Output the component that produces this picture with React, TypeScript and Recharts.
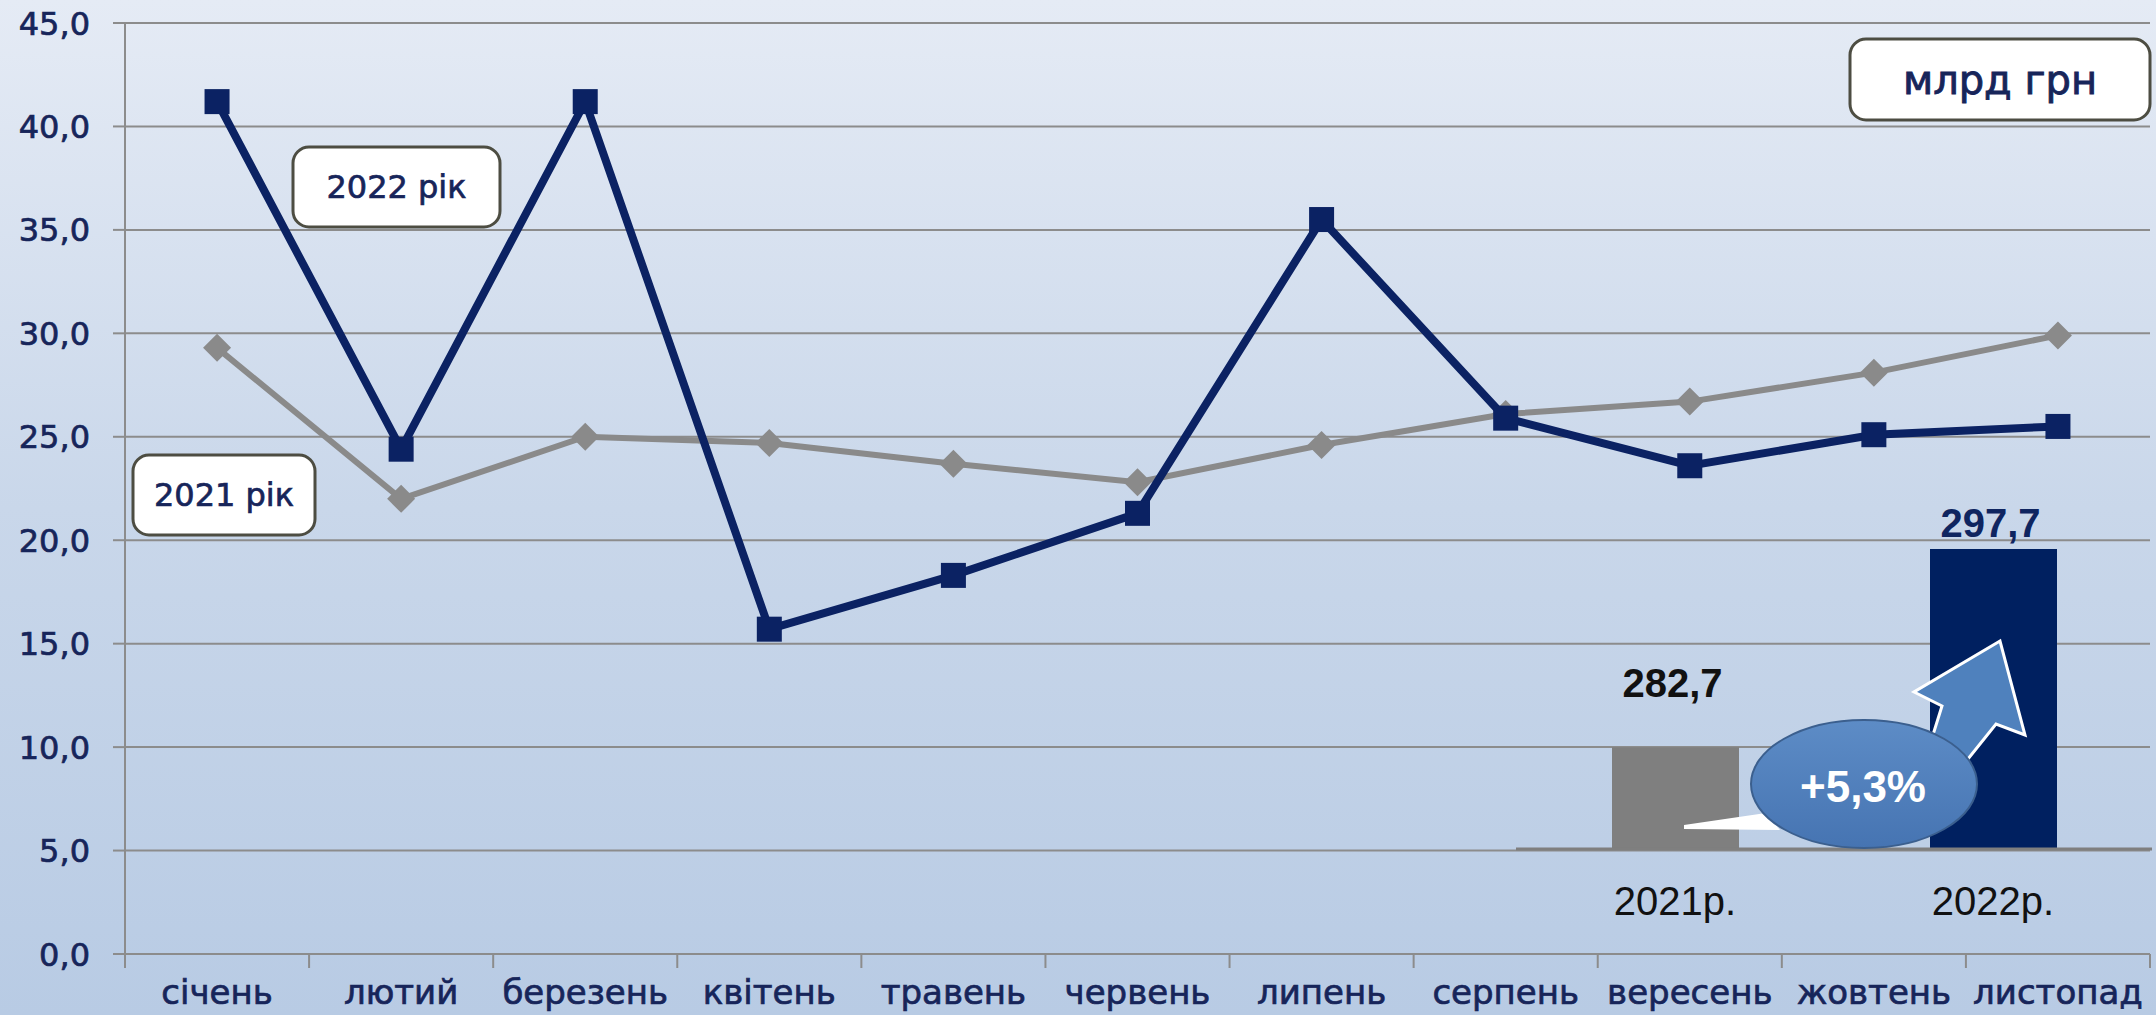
import React from 'react';
import {
  ComposedChart,
  BarChart,
  Bar,
  Cell,
  Line,
  XAxis,
  YAxis,
  CartesianGrid,
  LabelList,
} from 'recharts';

// місячні дані, млрд грн
const months = ['січень', 'лютий', 'березень', 'квітень', 'травень', 'червень', 'липень', 'серпень', 'вересень', 'жовтень', 'листопад'];
const values2021 = [29.3, 22.0, 25.0, 24.7, 23.7, 22.8, 24.6, 26.1, 26.7, 28.1, 29.9];
const values2022 = [41.2, 24.4, 41.2, 15.7, 18.3, 21.3, 35.5, 25.9, 23.6, 25.1, 25.5];
const yTicks = [0, 5, 10, 15, 20, 25, 30, 35, 40, 45];

// підсумки за 11 місяців
const totalYears = ['2021р.', '2022р.'];
const totals = [282.7, 297.7];
const growthText = '+5,3%';

const rows = months.map((m, i) => ({ m, v2021: values2021[i], v2022: values2022[i] }));
const totalRows = totalYears.map((year, i) => ({ year, total: totals[i] }));

const W = 2156;
const H = 1015;
const PLOT_LEFT = 125;
const PLOT_RIGHT = 2150;
const BAND = (PLOT_RIGHT - PLOT_LEFT) / months.length;

const NAVY = '#0b2263';
const GREY_LINE = '#8a8a8a';
const GRID = '#8c8c8c';
const TEXT_NAVY = '#17255a';
const FONT = '"DejaVu Sans", Verdana, sans-serif';
const FONT2 = '"Liberation Sans", Arial, sans-serif';

const fmt = (v: number) => v.toFixed(1).replace('.', ',');

const YTick = ({ x, y, payload }: any) => (
  <text
    x={x}
    y={y}
    dy="0.36em"
    textAnchor="end"
    fill={TEXT_NAVY}
    stroke={TEXT_NAVY}
    strokeWidth={0.7}
    fontSize={32}
    fontFamily={FONT}
  >
    {fmt(payload.value)}
  </text>
);

const MonthTick = ({ x, y, payload, index }: any) => (
  <g>
    <line x1={x - BAND / 2} y1={y} x2={x - BAND / 2} y2={y + 14} stroke={GRID} strokeWidth={2} />
    {index === months.length - 1 && (
      <line x1={x + BAND / 2} y1={y} x2={x + BAND / 2} y2={y + 14} stroke={GRID} strokeWidth={2} />
    )}
    <text
      x={x}
      y={y + 50}
      textAnchor="middle"
      fill={TEXT_NAVY}
      stroke={TEXT_NAVY}
      strokeWidth={0.7}
      fontSize={34}
      fontFamily={FONT}
    >
      {payload.value}
    </text>
  </g>
);

const SquareDot = ({ cx, cy, index }: any) => (
  <rect key={'s' + index} x={cx - 12.5} y={cy - 12.5} width={25} height={25} fill={NAVY} />
);

const DiamondDot = ({ cx, cy, index }: any) => (
  <path key={'d' + index} d={`M${cx},${cy - 14} L${cx + 14},${cy} L${cx},${cy + 14} L${cx - 14},${cy} Z`} fill={GREY_LINE} />
);

const YearTick = ({ x, y, payload }: any) => (
  <text x={x} y={y + 66} textAnchor="middle" fill="#111" fontSize={40} fontFamily={FONT2}>
    {payload.value}
  </text>
);

const barColors = ['#7f7f7f', '#002060'];
const labelColors = ['#111111', '#0f2560'];
const labelGap = [50, 12];

const TotalLabel = ({ x, y, width, value, index }: any) => (
  <text
    x={x + width / 2 - 3}
    y={y - labelGap[index]}
    textAnchor="middle"
    fill={labelColors[index]}
    fontSize={40}
    fontWeight="bold"
    fontFamily={FONT2}
  >
    {fmt(value)}
  </text>
);

const Box = ({ x, y, w, h, text, size, weight }: any) => (
  <g>
    <rect x={x} y={y} width={w} height={h} rx={16} ry={16} fill="#ffffff" stroke="#4d4d42" strokeWidth={3} />
    <text
      x={x + w / 2}
      y={y + h / 2}
      dominantBaseline="central"
      textAnchor="middle"
      fill={TEXT_NAVY}
      stroke={TEXT_NAVY}
      strokeWidth={weight}
      fontSize={size}
      fontFamily={FONT}
    >
      {text}
    </text>
  </g>
);

export default function App() {
  return (
    <div
      style={{
        position: 'absolute',
        left: 0,
        top: 0,
        width: W,
        height: H,
        overflow: 'hidden',
        background: 'linear-gradient(to bottom, #e5ebf5 0%, #c9d7ea 50%, #b8cbe4 100%)',
      }}
    >
      <div style={{ position: 'absolute', left: 0, top: 0 }}>
        <ComposedChart width={W} height={H} data={rows} margin={{ top: 23, right: W - PLOT_RIGHT, bottom: 0, left: 0 }}>
          <CartesianGrid vertical={false} stroke={GRID} strokeWidth={2} />
          <XAxis
            dataKey="m"
            height={61}
            interval={0}
            padding={{ left: BAND / 2, right: BAND / 2 }}
            tickLine={false}
            tickSize={0}
            tickMargin={0}
            axisLine={{ stroke: GRID, strokeWidth: 2 }}
            tick={<MonthTick />}
          />
          <YAxis
            width={PLOT_LEFT}
            domain={[0, 45]}
            ticks={yTicks}
            interval={0}
            tickSize={12}
            tickMargin={23}
            axisLine={{ stroke: GRID, strokeWidth: 2 }}
            tickLine={{ stroke: GRID, strokeWidth: 2 }}
            tick={<YTick />}
          />
          <Line
            type="linear"
            dataKey="v2021"
            stroke={GREY_LINE}
            strokeWidth={6}
            dot={<DiamondDot />}
            activeDot={false}
            isAnimationActive={false}
          />
          <Line
            type="linear"
            dataKey="v2022"
            stroke={NAVY}
            strokeWidth={8}
            dot={<SquareDot />}
            activeDot={false}
            isAnimationActive={false}
          />
        </ComposedChart>
      </div>

      <div style={{ position: 'absolute', left: 1516, top: 479 }}>
        <BarChart width={636} height={460} data={totalRows} margin={{ top: 0, right: 0, bottom: 0, left: 0 }}>
          <XAxis
            dataKey="year"
            height={90}
            interval={0}
            tickLine={false}
            tickSize={0}
            tickMargin={0}
            axisLine={{ stroke: '#7f7f7f', strokeWidth: 3 }}
            tick={<YearTick />}
          />
          <YAxis hide domain={[275, 303]} />
          <Bar dataKey="total" barSize={127} isAnimationActive={false}>
            {totalRows.map((r, i) => (
              <Cell key={r.year} fill={barColors[i]} />
            ))}
            <LabelList dataKey="total" content={<TotalLabel />} />
          </Bar>
        </BarChart>
      </div>

      <svg width={W} height={H} style={{ position: 'absolute', left: 0, top: 0, pointerEvents: 'none' }}>
        <defs>
          <linearGradient id="ell" x1="0" y1="0" x2="0" y2="1">
            <stop offset="0%" stopColor="#5d8cc6" />
            <stop offset="100%" stopColor="#4674b2" />
          </linearGradient>
        </defs>
        <Box x={293} y={147} w={207} h={80} text="2022 рік" size={32} weight={0.7} />
        <Box x={133} y={455} w={182} h={80} text="2021 рік" size={32} weight={0.7} />
        <Box x={1850} y={39} w={300} h={81} text="млрд грн" size={40} weight={0.9} />

        {/* стрілка приросту */}
        <polygon
          points="1908,770 1932,738 1942,706 1914,692 2000,641 2025,735 1996,724 1964,764 1945,792"
          fill="#4f81bd"
          stroke="#ffffff"
          strokeWidth={3}
          strokeLinejoin="miter"
        />
        {/* хвіст виноски */}
        <polygon points="1684,825 1766,813 1780,830 1684,829" fill="#ffffff" />
        <ellipse cx={1864} cy={784} rx={113} ry={64} fill="url(#ell)" stroke="#3b5f8e" strokeWidth={2} />
        <text x={1863} y={802} textAnchor="middle" fill="#ffffff" fontSize={44} fontWeight="bold" fontFamily={FONT2}>
          {growthText}
        </text>
      </svg>
    </div>
  );
}
